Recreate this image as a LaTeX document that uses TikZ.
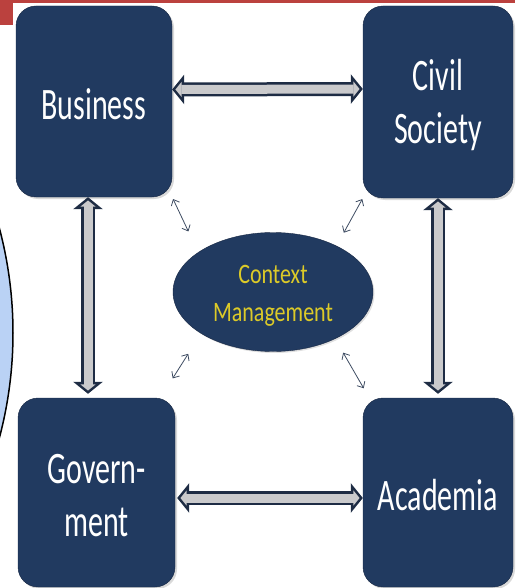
\documentclass[tikz,border=0pt]{standalone}
\usepackage{fontspec}
\setmainfont{Carlito}
\usetikzlibrary{arrows.meta,shapes.geometric,shadows}

\definecolor{boxblue}{RGB}{33,58,96}
\definecolor{boxedge}{RGB}{24,40,68}
\definecolor{arrowgray}{RGB}{202,202,204}
\definecolor{arrowedge}{RGB}{30,44,68}
\definecolor{ctxyellow}{RGB}{220,202,40}
\definecolor{linkgray}{RGB}{62,76,98}
\definecolor{discblue}{RGB}{186,210,245}
\definecolor{barred}{RGB}{187,65,62}

\newcommand{\tall}[1]{\raisebox{-3pt}[\height][\depth]{\scalebox{1}[1.5]{#1}}}
\newcommand{\semitall}[1]{\raisebox{-4pt}[\height][\depth]{\scalebox{1}[1.28]{#1}}}
\newcommand{\blockarrow}[2]{%
  \draw[bigline] (#1) -- (#2);
  \draw[bigcore] (#1) -- (#2);}

\begin{document}
\begin{tikzpicture}[x=1pt,y=-1pt,
   sector/.style={draw=boxedge,fill=boxblue,rounded corners=20pt,
      text=white,align=center,font=\fontsize{30}{53}\selectfont,
      drop shadow={shadow xshift=2pt,shadow yshift=-2pt,opacity=0.3}},
   context/.style={ellipse,draw=boxedge,fill=boxblue,text=ctxyellow,
      align=center,font=\fontsize{22}{38}\selectfont,
      minimum width=200pt,minimum height=119pt,inner sep=0pt,
      drop shadow={shadow xshift=1.5pt,shadow yshift=-1.5pt,opacity=0.25}},
   bigline/.style={draw=arrowedge,line width=14pt,
      {Triangle[length=12pt,width=29pt]}-{Triangle[length=12pt,width=29pt]}},
   bigcore/.style={draw=arrowgray,line width=9pt,shorten <=3.25pt,shorten >=3.25pt,
      {Triangle[length=6.25pt,width=15.1pt]}-{Triangle[length=6.25pt,width=15.1pt]}},
   link/.style={draw=linkgray,line width=0.8pt,
      {Straight Barb[length=5pt,width=9pt]}-{Straight Barb[length=5pt,width=9pt]}}]
\useasboundingbox (0,0) rectangle (515,588);
\clip (0,0) rectangle (515,588);

\fill[barred] (0,0) rectangle (515,3);
\fill[barred] (0,0) rectangle (13,25);
\draw[fill=discblue,line width=1.5pt] (-394,333) circle (407pt);

\node[sector,minimum width=156pt,minimum height=191pt] (bus) at (94,101.5) {\tall{Business}};
\node[sector,minimum width=150pt,minimum height=192pt] (civ) at (438,102) {\tall{Civil}\\\tall{Society}};
\node[sector,minimum width=157pt,minimum height=189pt] (gov) at (96.5,492.5) {\tall{Govern-}\\\tall{ment}};
\node[sector,minimum width=150pt,minimum height=189pt] (aca) at (438,492.5) {\tall{Academia}};
\node[context] (ctx) at (273,292) {\semitall{Context}\\\semitall{Management}};

\blockarrow{[yshift=12pt]bus.east}{[yshift=13pt]civ.west}
\blockarrow{[yshift=-5.5pt,xshift=2pt]gov.east}{[yshift=-5.5pt]aca.west}
\blockarrow{[xshift=-6pt]bus.south}{[xshift=-8.5pt,yshift=4pt]gov.north}
\blockarrow{civ.south}{[yshift=4pt]aca.north}

\draw[link,shorten <=2pt,shorten >=23pt] (bus.south east) -- (ctx.152);
\draw[link,shorten <=1pt,shorten >=15pt] (civ.south west) -- (ctx.36);
\draw[link,shorten <=23pt,shorten >=24pt] (gov.56) -- (ctx.210);
\draw[link,shorten <=11pt,shorten >=16pt] (aca.126) -- (ctx.323);
\end{tikzpicture}
\end{document}
